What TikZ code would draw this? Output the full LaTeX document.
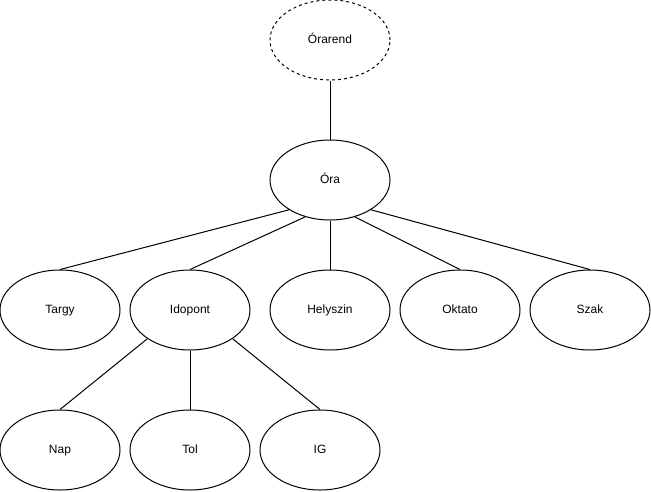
\documentclass[tikz,border=0pt]{standalone}
\usepackage{fontspec}
\setmainfont{Liberation Sans}
\usetikzlibrary{shapes.geometric}
\begin{document}
\begin{tikzpicture}[x=1pt,y=-1pt,
  entity/.style={draw=black, line width=1pt, ellipse, minimum width=120pt, minimum height=80pt,
    inner sep=0pt, text height=8.6pt, text depth=2.6pt, font=\fontsize{12}{14}\selectfont},
  root/.style={entity, dash pattern=on 3pt off 3pt},
  link/.style={draw=black, line width=1pt}]
  \useasboundingbox (0,0) rectangle (651,491);
  % top level
  \node[root]   (orarend)  at (330,40)  {Órarend};
  \node[entity] (ora)      at (330,180) {Óra};
  % attributes of Óra
  \node[entity] (targy)    at (60,310)  {Targy};
  \node[entity] (idopont)  at (190,310) {Idopont};
  \node[entity] (helyszin) at (330,310) {Helyszin};
  \node[entity] (oktato)   at (460,310) {Oktato};
  \node[entity] (szak)     at (590,310) {Szak};
  % parts of Idopont
  \node[entity] (nap)      at (60,450)  {Nap};
  \node[entity] (tol)      at (190,450) {Tol};
  \node[entity] (ig)       at (320,450) {IG};
  % connectors
  \draw[link] (orarend.south) -- (ora.north);
  \draw[link] (ora.-144) -- (targy.north);
  \draw[link] (ora.-124) -- (idopont.north);
  \draw[link] (ora.south) -- (helyszin.north);
  \draw[link] (ora.-56) -- (oktato.north);
  \draw[link] (ora.-36) -- (szak.north);
  \draw[link] (idopont.-146) -- (nap.north);
  \draw[link] (idopont.south) -- (tol.north);
  \draw[link] (idopont.-34) -- (ig.north);
\end{tikzpicture}
\end{document}
